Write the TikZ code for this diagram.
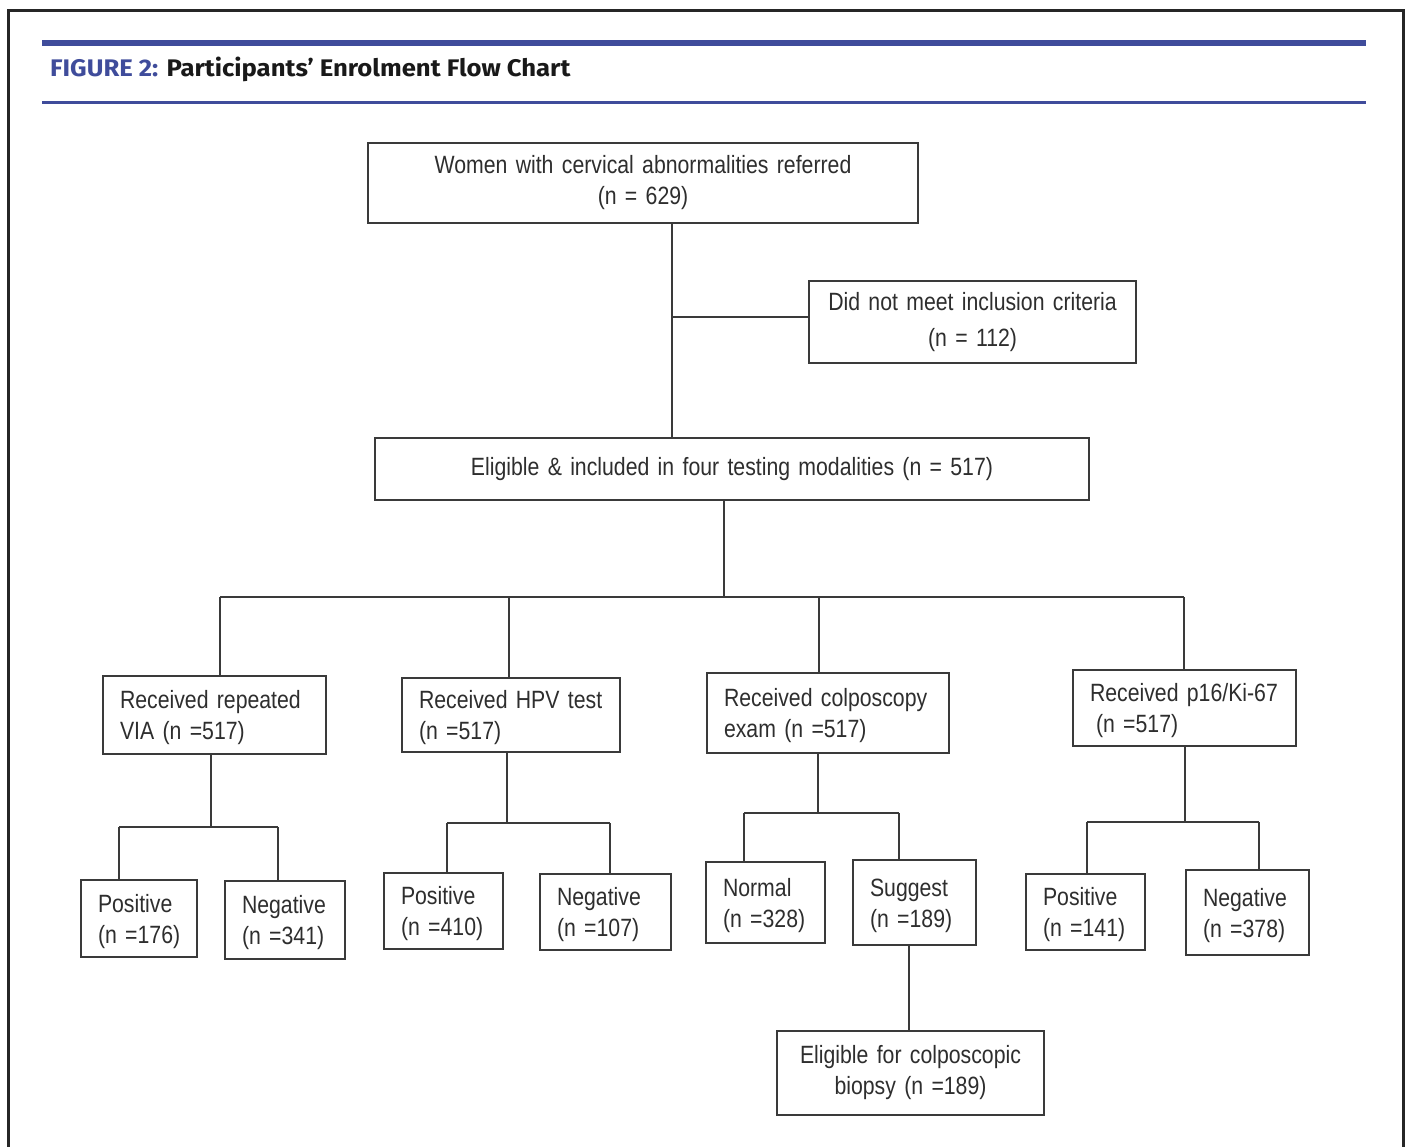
\documentclass[tikz,border=0pt]{standalone}
\usepackage{fontspec}
\newfontfamily\bodyfont[FakeStretch=0.85]{Liberation Sans}
\newfontfamily\titlefont[FakeStretch=1.07]{Fira Sans}
\definecolor{figblue}{HTML}{3F4C9B}
\definecolor{lineg}{HTML}{3A3A3A}
\definecolor{txtg}{HTML}{2E2E2E}
\newcommand\tl[1]{\raisebox{-3pt}[\height][\depth]{\begin{tabular}{@{}l@{}}#1\end{tabular}}}
\newcommand\bodysize{\fontsize{25}{31}\selectfont}
\begin{document}
\begin{tikzpicture}[x=1pt,y=-1pt,
  base/.style={draw=lineg, line width=1.6pt, rectangle, inner ysep=0pt,
     font=\bodyfont\bodysize, text=txtg},
  lbox/.style={base, align=left, inner xsep=17pt},
  cbox/.style={base, align=center, inner xsep=6pt},
  conn/.style={draw=lineg, line width=1.6pt}]
\useasboundingbox (0,0) rectangle (1408,1146);
\fill[white] (0,0) rectangle (1408,1146);
% frame
\draw[line width=3pt, draw=black!85] (8,1160) -- (8,10) -- (1403,10) -- (1403,1160);
% header
\fill[figblue] (42,40) rectangle (1366,45.5);
\fill[figblue] (42,101) rectangle (1366,104);
\node[anchor=base west, inner sep=0pt, font=\titlefont\bfseries\fontsize{24}{28}\selectfont] (title) at (50,76)
  {\textcolor{figblue}{FIGURE 2:} \textcolor{black!90}{Participants’ Enrolment Flow Chart}};

% level 0
\node[cbox, text width=538pt, minimum height=80pt] (top) at (643,183)
  {Women with cervical abnormalities referred\\(n = 629)};
\node[cbox, text width=315pt, minimum height=82pt] (excl) at (972.5,322)
  {Did not meet inclusion criteria\\[5pt](n = 112)};
\node[cbox, text width=702pt, minimum height=62pt] (elig) at (732,469)
  {Eligible \& included in four testing modalities (n = 517)\\[7pt]};

% level 1
\node[lbox, text width=189pt, minimum height=78pt] (via) at (214.5,715)
  {\tl{Received repeated\\VIA (n =517)}};
\node[lbox, text width=184pt, minimum height=74pt] (hpv) at (511,715)
  {\tl{Received HPV test\\(n =517)}};
\node[lbox, text width=208pt, minimum height=80pt] (colpo) at (828,713)
  {\tl{Received colposcopy\\exam (n =517)}};
\node[lbox, text width=189pt, minimum height=76pt] (p16) at (1184.5,708)
  {\tl{Received p16/Ki-67\\\hspace*{6pt}(n =517)}};

% level 2
\node[lbox, text width=82pt, minimum height=77pt] (vpos) at (139,918.5)
  {\tl{Positive\\(n =176)}};
\node[lbox, text width=86pt, minimum height=78pt] (vneg) at (285,920)
  {\tl{Negative\\(n =341)}};
\node[lbox, text width=85pt, minimum height=76pt] (hpos) at (443.5,911)
  {\tl{Positive\\(n =410)}};
\node[lbox, text width=97pt, minimum height=76pt] (hneg) at (605.5,912)
  {\tl{Negative\\(n =107)}};
\node[lbox, text width=85pt, minimum height=81pt] (norm) at (765.5,902.5)
  {\tl{Normal\\(n =328)}};
\node[lbox, text width=89pt, minimum height=85pt] (sugg) at (914.5,902.5)
  {\tl{Suggest\\(n =189)}};
\node[lbox, text width=85pt, minimum height=76pt] (ppos) at (1085.5,912)
  {\tl{Positive\\(n =141)}};
\node[lbox, text width=89pt, minimum height=85pt] (pneg) at (1247.5,912.5)
  {\tl{Negative\\(n =378)}};

% level 3
\node[cbox, text width=255pt, minimum height=84pt] (bio) at (910.5,1073)
  {Eligible for colposcopic\\biopsy (n =189)};

% junction coordinates
\coordinate (j1) at (672,317);
\coordinate (e1) at (724,597);
\coordinate (b1) at (220,597);
\coordinate (b2) at (509,597);
\coordinate (b3) at (819,597);
\coordinate (b4) at (1184,597);
\coordinate (v0) at (211,827);
\coordinate (vl) at (119,827);
\coordinate (vr) at (278,827);
\coordinate (h0) at (507,823);
\coordinate (hl) at (447,823);
\coordinate (hr) at (610,823);
\coordinate (c0) at (818,813);
\coordinate (cl) at (744,813);
\coordinate (cr) at (899,813);
\coordinate (p0) at (1185,822);
\coordinate (pl) at (1087,822);
\coordinate (pr) at (1259,822);
\coordinate (s0) at (909,1000);

% connectors
\draw[conn] (top.south -| j1) -- (elig.north -| j1);
\draw[conn] (j1) -- (j1 -| excl.west);
\draw[conn] (elig.south -| e1) -- (e1);
\draw[conn] (b1) -- (b4);
\draw[conn] (b1) -- (b1 |- via.north);
\draw[conn] (b2) -- (b2 |- hpv.north);
\draw[conn] (b3) -- (b3 |- colpo.north);
\draw[conn] (b4) -- (b4 |- p16.north);

\draw[conn] (via.south -| v0) -- (v0);
\draw[conn] (vl) -- (vr);
\draw[conn] (vl) -- (vl |- vpos.north);
\draw[conn] (vr) -- (vr |- vneg.north);

\draw[conn] (hpv.south -| h0) -- (h0);
\draw[conn] (hl) -- (hr);
\draw[conn] (hl) -- (hl |- hpos.north);
\draw[conn] (hr) -- (hr |- hneg.north);

\draw[conn] (colpo.south -| c0) -- (c0);
\draw[conn] (cl) -- (cr);
\draw[conn] (cl) -- (cl |- norm.north);
\draw[conn] (cr) -- (cr |- sugg.north);

\draw[conn] (p16.south -| p0) -- (p0);
\draw[conn] (pl) -- (pr);
\draw[conn] (pl) -- (pl |- ppos.north);
\draw[conn] (pr) -- (pr |- pneg.north);

\draw[conn] (sugg.south -| s0) -- (bio.north -| s0);
\end{tikzpicture}
\end{document}
